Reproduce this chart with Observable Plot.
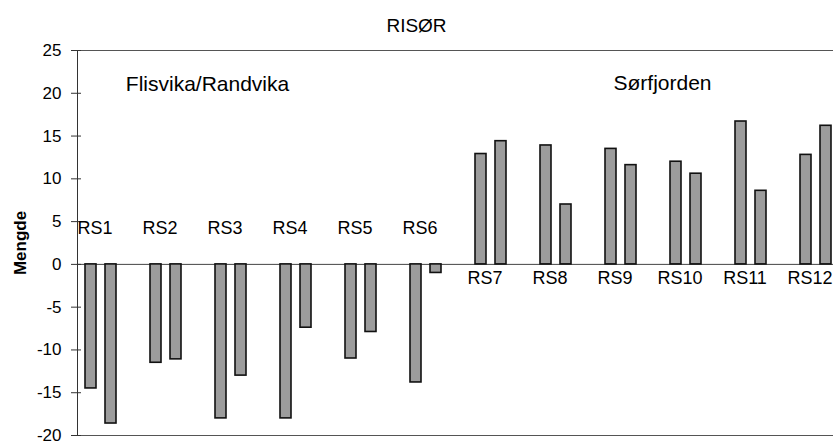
<!DOCTYPE html>
<html>
<head>
<meta charset="utf-8">
<script src="https://cdn.jsdelivr.net/npm/d3@7"></script>
<script src="https://cdn.jsdelivr.net/npm/@observablehq/plot@0.6"></script>
<style>
  html, body { margin: 0; padding: 0; background: #fff; overflow: hidden; }
  #title { width: 833px; height: 40px; box-sizing: border-box; padding-top: 16px;
           text-align: center; font: 19px "Liberation Sans", Arial, sans-serif; line-height: 20px; color: #000; }
  g[aria-label="y-axis label"] text { font-weight: bold; font-size: 17px; }
</style>
</head>
<body>
<div id="title">RISØR</div>
<div id="chart"></div>
<script>
// ---- data ----
const sites = ["RS1", "RS2", "RS3", "RS4", "RS5", "RS6", "RS7", "RS8", "RS9", "RS10", "RS11", "RS12"];
const series = ["Serie 1", "Serie 2"];
const serie1 = [-14.5, -11.5, -18, -18, -11, -13.8, 12.9, 13.9, 13.5, 12.0, 16.7, 12.8];
const serie2 = [-18.6, -11.1, -13, -7.4, -7.9, -1.0, 14.4, 7.0, 11.6, 10.6, 8.6, 16.2];
const yTicks = [-20, -15, -10, -5, 0, 5, 10, 15, 20, 25];
const regionNames = ["Flisvika/Randvika", "Sørfjorden"];
const regionSites = ["RS3", "RS10"];
const regionLevel = [21, 21.2];

// ---- tables built from the arrays ----
const data = sites.flatMap((s, i) => [
  {site: s, serie: series[0], value: serie1[i]},
  {site: s, serie: series[1], value: serie2[i]}
]);
const labels = sites.map((s, i) => ({site: s, neg: serie1[i] < 0}));
const regions = regionNames.map((n, i) => ({name: n, site: regionSites[i], y: regionLevel[i]}));

const chart = Plot.plot({
  width: 833,
  height: 405,
  marginTop: 10,
  marginBottom: 10,
  marginLeft: 74,
  marginRight: -26,
  style: {fontFamily: "'Liberation Sans', Arial, sans-serif", fontSize: "17px", color: "#000", background: "#fff"},
  fx: {domain: sites, padding: 0, axis: null},
  x: {domain: series, paddingInner: 0.45, paddingOuter: 0.78, align: 0.24, axis: null},
  y: {domain: [-20, 25], axis: null},
  marks: [
    Plot.ruleY([25, -20], {stroke: "#555", strokeWidth: 1}),
    Plot.ruleY([0], {stroke: "#444", strokeWidth: 1}),
    Plot.frame({anchor: "left", facetAnchor: "left", stroke: "#333", strokeWidth: 1}),
    Plot.barY(data, {fx: "site", x: "serie", y: "value", fill: "#9c9c9c", stroke: "#111", strokeWidth: 1.6}),
    Plot.axisY(yTicks, {tickSize: 6, tickPadding: 10, fontSize: 17, stroke: "#333",
                        tickFormat: d => String(d),
                        label: "Mengde", labelAnchor: "center", labelArrow: "none", labelOffset: 64}),
    Plot.axisY(yTicks, {tickSize: -4, tickFormat: () => "", stroke: "#333", label: null}),
    Plot.text(labels.filter(d => d.neg), {fx: "site", text: "site", y: 0, dy: -36, dx: -15, fontSize: 18}),
    Plot.text(labels.filter(d => !d.neg), {fx: "site", text: "site", y: 0, dy: 14, dx: -15, fontSize: 18}),
    Plot.text(regions, {fx: "site", text: "name", y: "y", frameAnchor: "left", textAnchor: "middle", fontSize: 21})
  ]
});
document.getElementById("chart").appendChild(chart);
</script>
</body>
</html>
